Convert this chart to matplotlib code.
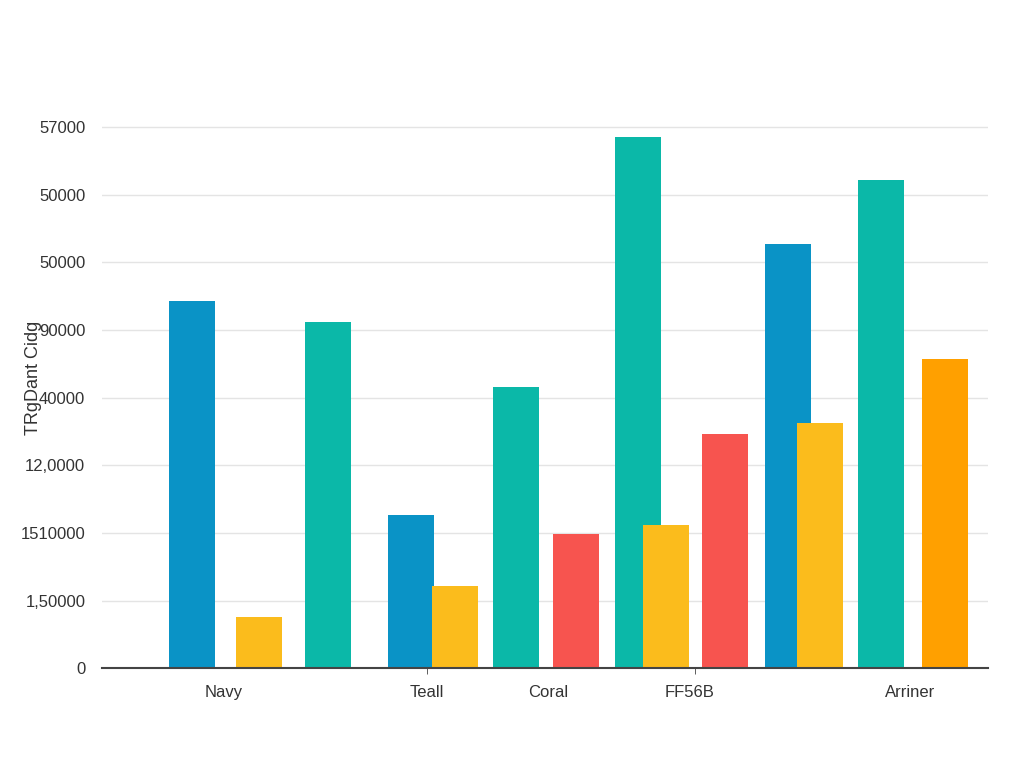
import matplotlib.pyplot as plt

plt.rcParams['font.family'] = ['Liberation Sans', 'DejaVu Sans']

# bar heights, in y-tick steps
heights = [5.43, 0.75, 5.12, 2.26, 1.21, 4.16, 1.98, 7.85, 2.12, 3.46, 6.27, 3.62, 7.22, 4.57]
colors = ['#0A93C6', '#FBBC1C', '#0BB8A8', '#0A93C6', '#FBBC1C', '#0BB8A8', '#F7544F',
          '#0BB8A8', '#FBBC1C', '#F7544F', '#0A93C6', '#FBBC1C', '#0BB8A8', '#FFA000']
bar_x = [90.5, 157, 226, 309, 353.5, 414.5, 474.5, 536, 564.5, 623, 686, 718.5, 779, 843]

cat_labels = ['Navy', 'Teall', 'Coral', 'FF56B', 'Arriner']
cat_x = [122, 325, 446, 588, 808]

ytick_labels = ['0', '1,50000', '1510000', '12,0000', '40000', '90000', '50000', '50000', '57000']

fig = plt.figure(figsize=(10.24, 7.68), dpi=100)
ax = fig.add_axes([0.0996, 0.130, 0.865, 0.7266])

ax.bar(bar_x, heights, width=46, color=colors, zorder=3)

ax.set_xlim(0, 886)
ax.set_ylim(0, 8.25)
ax.set_yticks(range(len(ytick_labels)))
ax.set_yticklabels(ytick_labels, fontsize=12, color='#333333')
ax.yaxis.grid(True, color='#e4e4e4', linewidth=1)
ax.tick_params(axis='y', length=0, pad=12)

ax.xaxis.remove_overlapping_locs = False
ax.set_xticks(cat_x)
ax.set_xticklabels(cat_labels, fontsize=12, color='#333333')
ax.tick_params(axis='x', length=0, pad=12)
ax.set_xticks([325, 593], minor=True)
ax.tick_params(axis='x', which='minor', length=4, color='#444444')

for s in ['top', 'right', 'left']:
    ax.spines[s].set_visible(False)
ax.spines['bottom'].set_color('#444444')
ax.spines['bottom'].set_linewidth(1.5)
ax.spines['bottom'].set_zorder(4)

ax.set_ylabel('TRgDant Cidg', fontsize=13, color='#333333')
ax.yaxis.set_label_coords(-0.068, 0.52)

fig.savefig('out.png', dpi=100)
